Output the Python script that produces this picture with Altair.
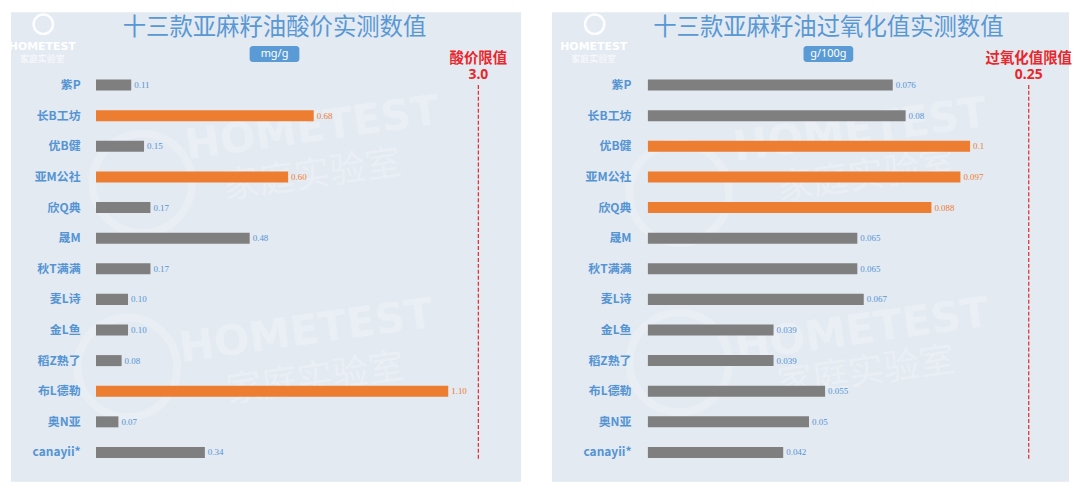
import altair as alt
import pandas as pd

brands = ["紫P", "长B工坊", "优B健", "亚M公社", "欣Q典", "晟M", "秋T满满",
          "麦L诗", "金L鱼", "稻Z熟了", "布L德勒", "奥N亚", "canayii*"]
acid_values = [0.11, 0.68, 0.15, 0.60, 0.17, 0.48, 0.17, 0.10, 0.10, 0.08, 1.10, 0.07, 0.34]
acid_highlight = [0, 1, 0, 1, 0, 0, 0, 0, 0, 0, 1, 0, 0]
perox_values = [0.076, 0.08, 0.1, 0.097, 0.088, 0.065, 0.065, 0.067, 0.039, 0.039, 0.055, 0.05, 0.042]
perox_highlight = [0, 0, 1, 1, 1, 0, 0, 0, 0, 0, 0, 0, 0]

titles = ["十三款亚麻籽油酸价实测数值", "十三款亚麻籽油过氧化值实测数值"]
units = ["mg/g", "g/100g"]
limit_names = ["酸价限值", "过氧化值限值"]
limit_values = ["3.0", "0.25"]
logo_texts = ["HOMETEST", "家庭实验室"]

ORANGE = "#ed7d31"
GRAY = "#7f7f7f"
BLUE = "#5594d2"
RED = "#e8262b"
BG = "#e3eaf2"
CJK = "Noto Sans CJK SC"

W, H = 1064, 472
Y_RANGE = [57.8, 458.0]

df = pd.DataFrame({"brand": brands, "acid": acid_values, "acid_hi": acid_highlight,
                   "perox": perox_values, "perox_hi": perox_highlight})
base = alt.Chart(df)
y = alt.Y("brand:N", sort=brands, axis=None,
          scale=alt.Scale(paddingInner=0.64, paddingOuter=0.32, range=Y_RANGE))


def one(text):
    return alt.Chart(pd.DataFrame({"t": [text]}))


def text_at(text, x, yy, **kw):
    return one(text).mark_text(align="center", baseline="middle", **kw).encode(
        text="t:N", x=alt.value(x), y=alt.value(yy))


def panel(field, hi, fmt, domain_max, xr, bg_x, cx, label_x, limit_x,
          title, unit, lname, lval, logo_x, wm):
    x = alt.X(f"{field}:Q", axis=None,
              scale=alt.Scale(domain=[0, domain_max], nice=False, zero=True, range=xr))
    layers = []
    layers.append(one("bg").mark_rect(color=BG).encode(
        x=alt.value(bg_x[0]), x2=alt.value(bg_x[1]), y=alt.value(0), y2=alt.value(H)))
    # faint watermarks
    for (hx, hy, jx, jy, ox, oy) in wm:
        layers.append(text_at("HOMETEST", hx, hy, font="DejaVu Sans", fontWeight="bold",
                              fontSize=42, angle=352, color="white", opacity=0.26))
        layers.append(text_at("家庭实验室", jx, jy, font=CJK, fontSize=36, angle=352,
                              color="white", opacity=0.26))
        layers.append(one("o").mark_point(shape="circle", filled=False, color="white",
                                          opacity=0.22, strokeWidth=8, size=10000).encode(
            x=alt.value(ox), y=alt.value(oy)))
    hi_test = f"datum.{hi} == 1"
    layers.append(base.mark_bar().encode(
        x=x, y=y, color=alt.condition(hi_test, alt.value(ORANGE), alt.value(GRAY))))
    layers.append(base.mark_text(align="left", baseline="middle", dx=3,
                                 font="Liberation Serif", fontSize=9).encode(
        x=x, y=y, text=alt.Text(f"{field}:Q", format=fmt),
        color=alt.condition(hi_test, alt.value(ORANGE), alt.value(BLUE))))
    layers.append(base.mark_text(align="right", baseline="middle", font=CJK,
                                 fontWeight="bold", fontSize=12, color=BLUE).encode(
        x=alt.value(label_x), y=y, text="brand:N"))
    # title and unit badge
    layers.append(text_at(title, cx, 15.5, font=CJK, fontSize=23.5, color="#5a98d4"))
    layers.append(one(unit).mark_rect(color="#5b9bd5", cornerRadius=3).encode(
        x=alt.value(cx - 25), x2=alt.value(cx + 25), y=alt.value(34), y2=alt.value(50)))
    layers.append(text_at(unit, cx, 42.3, font="Noto Sans", fontSize=11, color="white"))
    # limit annotation
    layers.append(text_at(lname, limit_x, 46.5, font=CJK, fontWeight="bold",
                          fontSize=14.5, color=RED))
    layers.append(text_at(lval, limit_x, 63.5, font="Noto Sans", fontWeight="bold",
                          fontSize=14, color=RED))
    layers.append(one("l").mark_rule(color=RED, strokeDash=[4, 2], strokeWidth=1.2).encode(
        x=alt.value(limit_x), y=alt.value(73), y2=alt.value(449)))
    # logo
    layers.append(one("o").mark_point(shape="circle", filled=False, color="white",
                                      opacity=0.95, strokeWidth=2.5, size=380).encode(
        x=alt.value(logo_x + 1), y=alt.value(12)))
    layers.append(text_at(logo_texts[0], logo_x, 34.5, font="DejaVu Sans",
                          fontWeight="bold", fontSize=11, color="white"))
    layers.append(text_at(logo_texts[1], logo_x, 47, font=CJK, fontSize=9,
                          color="white", opacity=0.9))
    return layers


left = panel("acid", "acid_hi", ".2f", 1.2, [85.5, 471.9], [0, 513], 265, 70, 470,
             titles[0], units[0], limit_names[0], limit_values[0], 31.5,
             [(303, 117, 303, 164, 132, 172), (297, 321, 306, 369, 117, 357)])
right = panel("perox", "perox_hi", "", 0.12, [640.5, 1029.3], [544, W], 822, 624, 1023.5,
              titles[1], units[1], limit_names[1], limit_values[1], 586,
              [(854, 119, 860, 165, 672, 182), (856, 320, 860, 362, 672, 352)])

chart = alt.layer(*left, *right).resolve_scale(x="independent").properties(
    width=W, height=H,
    padding={"left": 0, "top": 0, "right": 0, "bottom": 0},
    background="white"
).configure_view(stroke=None)

chart.save("out.html", embed_options={"renderer": "svg", "actions": False})
